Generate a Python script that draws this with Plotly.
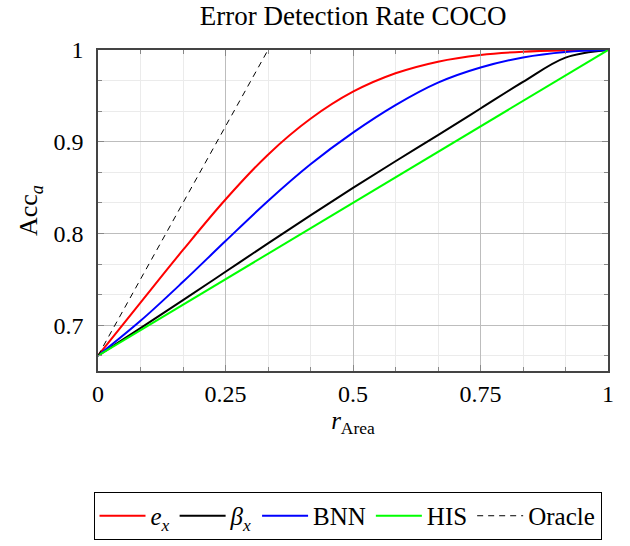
import plotly.graph_objects as go

# ---- data (x at every 1/12 grid line) ----
x_grid = [0, 1/12, 2/12, 3/12, 4/12, 5/12, 6/12, 7/12, 8/12, 9/12, 10/12, 11/12, 1.0]

y_ex = [0.6667, 0.7246, 0.782, 0.837, 0.8859, 0.925, 0.9545, 0.9746, 0.9873, 0.9946, 0.9982, 0.9996, 1.0]
y_beta = [0.6667, 0.6967, 0.7272, 0.7582, 0.7892, 0.8197, 0.8497, 0.8787, 0.9072, 0.9362, 0.9652, 0.9917, 1.0]
y_bnn = [0.6667, 0.7047, 0.7472, 0.7917, 0.8354, 0.8754, 0.9099, 0.9399, 0.9644, 0.9809, 0.9919, 0.9979, 1.0]

x_his = [0, 1.0]
y_his = [0.6667, 1.0]

x_oracle = [0, 0.3333]
y_oracle = [0.6667, 1.0]

x_ticks = [0, 0.25, 0.5, 0.75, 1]
x_ticklabels = ["0", "0.25", "0.5", "0.75", "1"]
y_ticks = [0.7, 0.8, 0.9, 1.0]
y_ticklabels = ["0.7", "0.8", "0.9", "1"]

FONT = "Liberation Serif"

fig = go.Figure()
fig.add_trace(go.Scatter(x=x_grid, y=y_ex, mode="lines", name="<i>e</i><sub><i>x</i></sub>",
                         line=dict(color="#ff0000", width=2, shape="spline", smoothing=1)))
fig.add_trace(go.Scatter(x=x_grid, y=y_beta, mode="lines", name="<i>β</i><sub><i>x</i></sub>",
                         line=dict(color="#000000", width=2, shape="spline", smoothing=1)))
fig.add_trace(go.Scatter(x=x_grid, y=y_bnn, mode="lines", name="BNN",
                         line=dict(color="#0000ff", width=2, shape="spline", smoothing=1)))
fig.add_trace(go.Scatter(x=x_his, y=y_his, mode="lines", name="HIS",
                         line=dict(color="#00ff00", width=2)))
fig.add_trace(go.Scatter(x=x_oracle, y=y_oracle, mode="lines", name="Oracle",
                         line=dict(color="#000000", width=1, dash="6px,5px")))

axis_common = dict(
    showline=True, linecolor="#444444", linewidth=1.5, mirror="ticks",
    ticks="inside", ticklen=6, tickcolor="#888888", tickwidth=1,
    showgrid=True, gridcolor="#bdbdbd", gridwidth=1,
    zeroline=False,
    tickfont=dict(family=FONT, size=24, color="black"),
)

fig.update_xaxes(
    range=[0, 1], tickmode="array", tickvals=x_ticks, ticktext=x_ticklabels,
    minor=dict(tick0=0, dtick=1/12, showgrid=True, gridcolor="#ebebeb", gridwidth=1,
               ticks="inside", ticklen=4, tickcolor="#888888"),
    title=dict(text="<i>r</i><sub>Area</sub>", font=dict(family=FONT, size=25, color="black"),
               standoff=4),
    **axis_common,
)
fig.update_yaxes(
    range=[0.65, 1.0], tickmode="array", tickvals=y_ticks, ticktext=y_ticklabels,
    minor=dict(tick0=0.7, dtick=0.1/3, showgrid=True, gridcolor="#ebebeb", gridwidth=1,
               ticks="inside", ticklen=4, tickcolor="#888888"),
    ticklabelstandoff=8,
    title=dict(text="Acc<sub><i>a</i></sub>", font=dict(family=FONT, size=26, color="black"),
               standoff=8),
    **axis_common,
)

fig.update_layout(
    width=630, height=546,
    margin=dict(l=98, r=22, t=50, b=175, autoexpand=False),
    paper_bgcolor="white", plot_bgcolor="white",
    title=dict(text="Error Detection Rate COCO", x=0.5605, xanchor="center", y=0.988, yanchor="top",
               font=dict(family=FONT, size=27, color="black")),
    showlegend=True,
    legend=dict(orientation="h", xref="container", yref="container",
                x=0.5516, xanchor="center", y=0.011, yanchor="bottom",
                bordercolor="black", borderwidth=1, bgcolor="white",
                font=dict(family=FONT, size=25, color="black"),
                itemwidth=46, tracegroupgap=0),
)

fig.write_html("out.html")
